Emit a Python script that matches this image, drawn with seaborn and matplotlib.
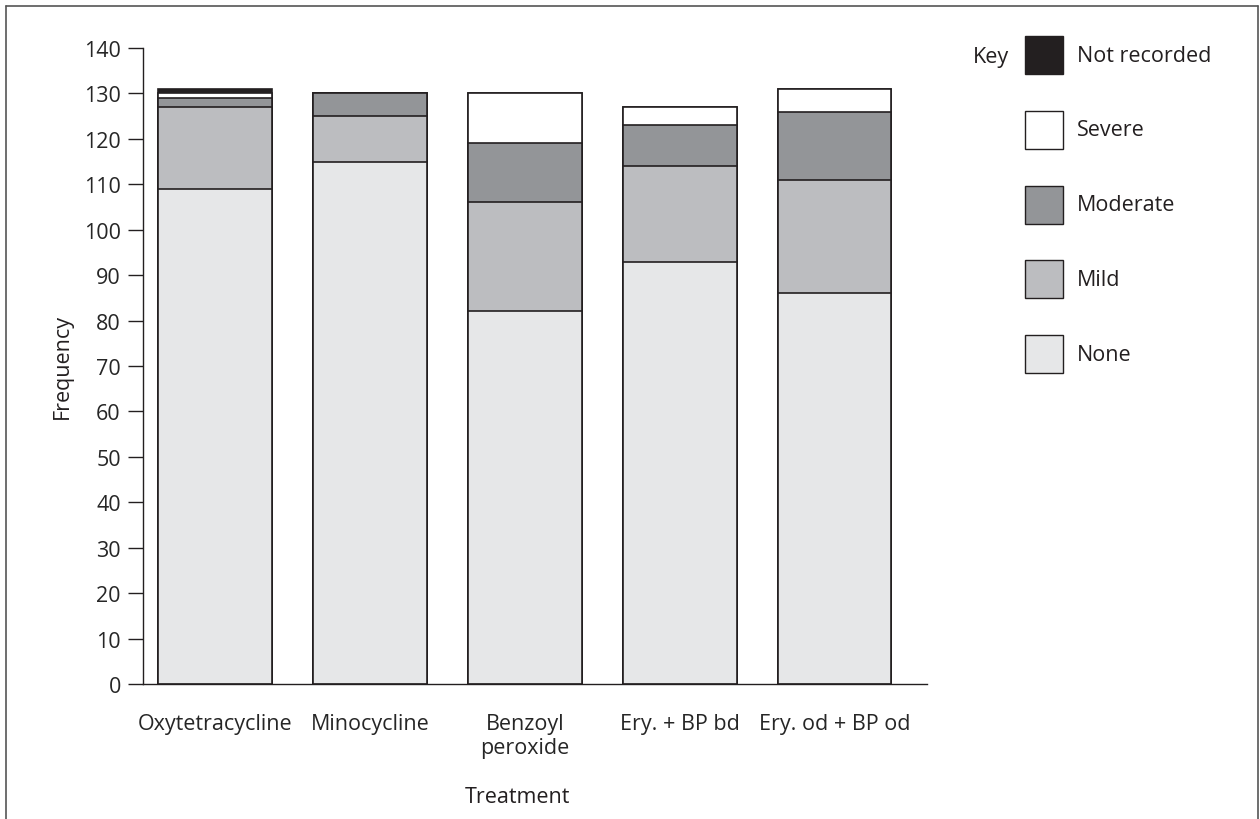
import matplotlib.patches as patches
import matplotlib.pyplot as plt
import numpy as np
import pandas as pd
import seaborn as sns
from matplotlib.lines import Line2D

treatments = [
    "Oxytetracycline",
    "Minocycline",
    "Benzoyl\nperoxide",
    "Ery. + BP bd",
    "Ery. od + BP od",
]
none = [109, 115, 82, 93, 86]
mild = [18, 10, 24, 21, 25]
moderate = [2, 5, 13, 9, 15]
severe = [1, 0, 11, 4, 5]
not_recorded = [1, 0, 0, 0, 0]

levels = ["None", "Mild", "Moderate", "Severe", "Not recorded"]
colors = {
    "None": "#e6e7e8",
    "Mild": "#bcbdc0",
    "Moderate": "#939598",
    "Severe": "#ffffff",
    "Not recorded": "#231f20",
}
ink = "#231f20"
fs = 15.5

sns.set_style("white")
plt.rcParams["font.family"] = ["Open Sans", "DejaVu Sans"]
plt.rcParams["text.color"] = ink
plt.rcParams["axes.labelcolor"] = ink

df = pd.DataFrame(
    {
        "Treatment": treatments,
        "None": none,
        "Mild": mild,
        "Moderate": moderate,
        "Severe": severe,
        "Not recorded": not_recorded,
    }
)
# cumulative heights, so the stack can be drawn from the top down
cum = df[levels].cumsum(axis=1)
cum["Treatment"] = df["Treatment"]

fig = plt.figure(figsize=(12.6, 8.2), dpi=100)
ax = fig.add_axes([143 / 1260, 1 - 685 / 820, (927 - 143) / 1260, 636 / 820])

for level in reversed(levels):
    sns.barplot(
        data=cum,
        x="Treatment",
        y=level,
        color=colors[level],
        edgecolor=ink,
        linewidth=1.2,
        width=0.735,
        saturation=1,
        ax=ax,
    )

ax.set_ylim(0, 140)
ax.set_xlim(-0.465, 4.597)
ax.set_yticks(np.arange(0, 141, 10))
ax.tick_params(axis="y", length=11, width=1, color=ink, pad=5, labelsize=fs, left=True)
ax.tick_params(axis="x", length=0, pad=21, labelsize=fs)
sns.despine(ax=ax)
for side in ["left", "bottom"]:
    ax.spines[side].set_color(ink)
    ax.spines[side].set_linewidth(1)

ax.set_xlabel("Treatment", fontsize=fs)
ax.xaxis.set_label_coords(0.477, -0.16)
ax.set_ylabel("Frequency", fontsize=fs)
ax.yaxis.set_label_coords(-0.09, 0.5)

# key on the right
fig.text(973 / 1260, 1 - 57 / 820, "Key", fontsize=fs, ha="left", va="center")
for i, level in enumerate(reversed(levels)):
    yc = 56 + i * 74.8
    fig.add_artist(
        patches.Rectangle(
            (1025 / 1260, 1 - (yc + 19) / 820),
            38 / 1260,
            38 / 820,
            facecolor=colors[level],
            edgecolor=ink,
            linewidth=1,
            transform=fig.transFigure,
        )
    )
    fig.text(1077 / 1260, 1 - yc / 820, level, fontsize=fs, ha="left", va="center")

# frame round the figure, open at the bottom
x0, x1, y1 = 6 / 1260, 1258 / 1260, 1 - 7 / 820
for xs, ys in [([x0, x0], [0, y1]), ([x0, x1], [y1, y1]), ([x1, x1], [y1, 0])]:
    fig.add_artist(Line2D(xs, ys, color="#555555", linewidth=1.2, transform=fig.transFigure))

fig.savefig("out.png", dpi=100, facecolor="white")
